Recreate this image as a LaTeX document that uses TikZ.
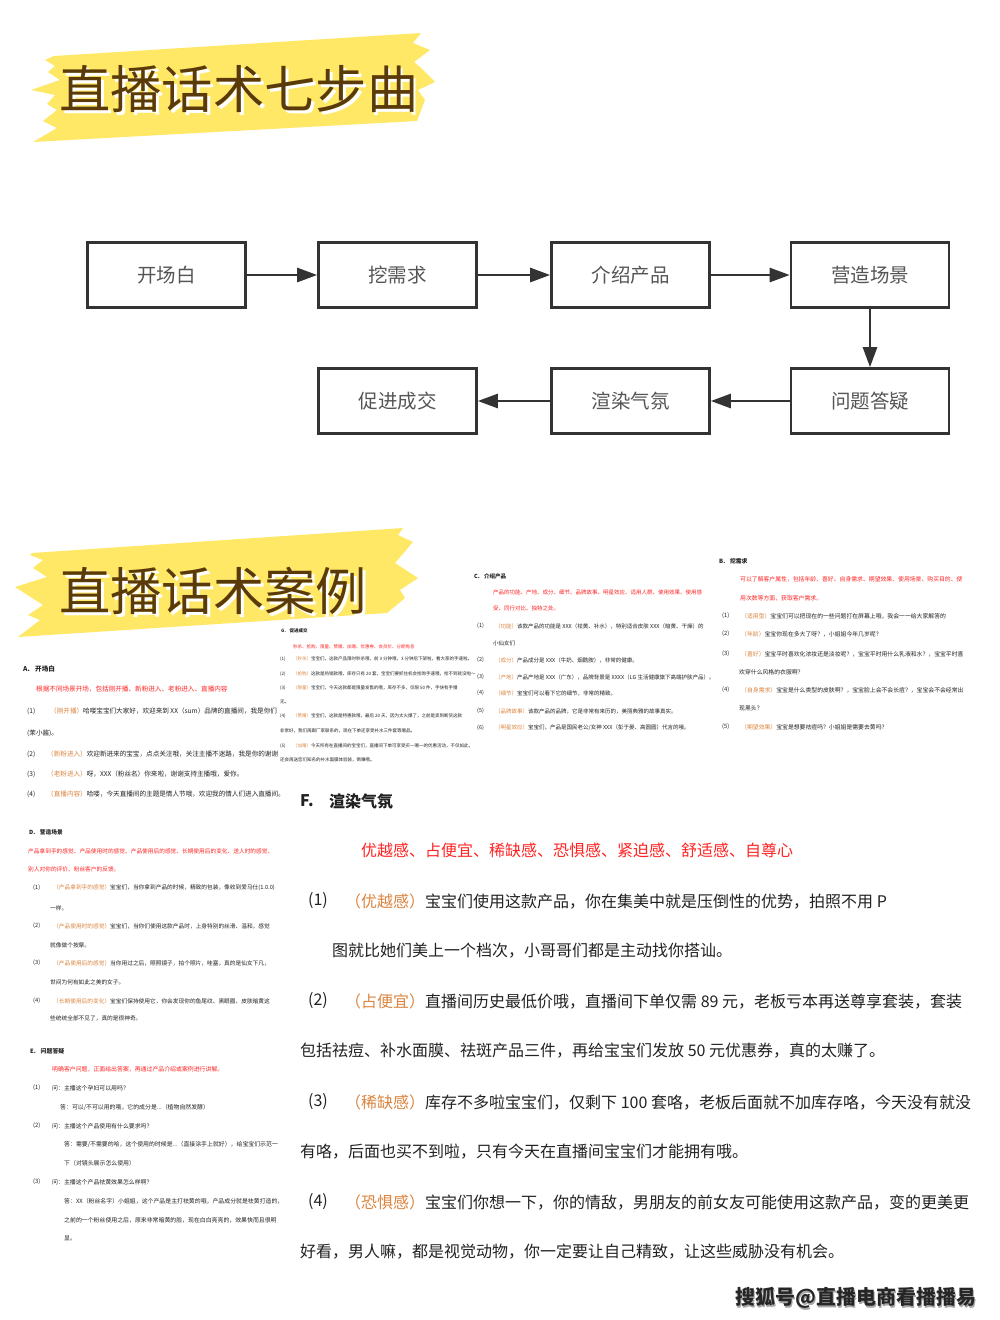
\documentclass[tikz,border=0pt]{standalone}
\usepackage{fontspec}
\setmainfont{Noto Sans CJK SC}
\usetikzlibrary{arrows.meta}
\definecolor{yel}{HTML}{FFE866}
\definecolor{titlec}{HTML}{5A3A08}
\definecolor{boxc}{HTML}{333333}
\definecolor{boxtxt}{HTML}{555555}
\definecolor{redc}{HTML}{FF2424}
\definecolor{labc}{HTML}{DB8540}
\definecolor{txt}{HTML}{222222}
\newcommand\lb[1]{\textcolor{labc}{#1}}
\begin{document}
\begin{tikzpicture}[x=1pt,y=-1pt,
  box/.style={draw=boxc, line width=2.6pt, minimum width=158pt, minimum height=65pt, inner sep=0pt, text=boxtxt, font=\fontsize{19.5}{20}\selectfont},
  arr/.style={draw=boxc, line width=2.6pt, -{Triangle[length=20pt,width=14pt]}},
  ttl/.style={anchor=west, inner sep=0pt, text=titlec, font=\fontsize{51.3}{52}\selectfont},
  tl/.style={anchor=west, inner sep=0pt, text=txt},
  sa/.style={tl, font=\fontsize{6.6}{7}\selectfont},
  sb/.style={tl, font=\fontsize{5.85}{6}\selectfont},
  sc/.style={tl, font=\fontsize{5.5}{6}\selectfont},
  sg/.style={tl, font=\fontsize{4.5}{5}\selectfont},
  sd/.style={tl, font=\fontsize{5.7}{6}\selectfont},
  se/.style={tl, font=\fontsize{5.9}{6}\selectfont},
  sf/.style={tl, font=\fontsize{16}{17}\selectfont},
  rd/.style={text=redc},
  hd/.style={font=\bfseries\fontsize{#1}{#1}\selectfont},
]
\useasboundingbox (0,0) rectangle (1000,1320);
\fill[white] (0,0) rectangle (1000,1320);

% ---------- banner 1 ----------
\fill[yel] (54,56) -- (421,33) -- (413,43) -- (430,50) -- (414,62) -- (420,67) -- (435,82) -- (418,90) -- (425,100) -- (417,121)
  -- (33,142) -- (57,128) -- (43,121) -- (57,110) -- (47,104) -- (55,95) -- (31,90) -- (60,80) -- (48,72) -- (55,66) -- (45,60) -- cycle;
\node[ttl, text=white] (t1s) at (62,92) {直播话术七步曲};
\node[ttl] (t1) at (59,89) {直播话术七步曲};

% ---------- flowchart ----------
\node[box] (b1) at (166.5,275) {开场白};
\node[box] (b2) at (397.5,275) {挖需求};
\node[box] (b3) at (630.5,275) {介绍产品};
\node[box] (b4) at (870,275) {营造场景};
\node[box] (b5) at (870,401) {问题答疑};
\node[box] (b6) at (630.5,401) {渲染气氛};
\node[box] (b7) at (397.5,401) {促进成交};
\draw[arr] (b1) -- (b2);
\draw[arr] (b2) -- (b3);
\draw[arr] (b3) -- (b4);
\draw[arr] (b4) -- (b5);
\draw[arr] (b5) -- (b6);
\draw[arr] (b6) -- (b7);

% ---------- banner 2 ----------
\fill[yel] (32,553) -- (403,528) -- (398,535) -- (413,542) -- (395,563) -- (418,578) -- (400,590) -- (405,598) -- (387,613)
  -- (18,637) -- (40,620) -- (28,615) -- (43,605) -- (15,587) -- (47,577) -- (33,568) -- (43,560) -- (30,555) -- cycle;
\node[ttl, text=white] (t2s) at (62,594) {直播话术案例};
\node[ttl] (t2) at (59,591) {直播话术案例};

% ---------- A ----------
\node[sa, hd=6.6] (a0) at (23,669) {A.\hspace{0.8em}开场白};
\node[sa, rd] (a1) at (36,689) {根据不同场景开场，包括刚开播、新粉进入、老粉进入、直播内容};
\node[sa] (a2n) at (27,711) {(1)};
\node[sa] (a2) at (50,711) {\lb{（刚开播）}哈喽宝宝们大家好，欢迎来到 XX（sum）品牌的直播间，我是你们};
\node[sa] (a3) at (27,733) {(茉小酱)。};
\node[sa] (a4n) at (27,754) {(2)};
\node[sa] (a4) at (47,754) {\lb{（新粉进入）}欢迎新进来的宝宝，点点关注哦，关注主播不迷路，我是你的谢谢};
\node[sa] (a5n) at (27,774) {(3)};
\node[sa] (a5) at (47,774) {\lb{（老粉进入）}呀，XXX（粉丝名）你来啦，谢谢支持主播哦，爱你。};
\node[sa] (a6n) at (27,794) {(4)};
\node[sa] (a6) at (47,794) {\lb{（直播内容）}哈喽，今天直播间的主题是情人节哦，欢迎我的情人们进入直播间。};

% ---------- G (covers A) ----------
\fill[white] (278,622) rectangle (470,770);
\node[sg, hd=4.5] (g0) at (281,631) {G.\hspace{0.8em}促进成交};
\node[sg, rd] (g1) at (293,647) {秒杀、抢购、限量、赞赠、加赠、优惠券、会员价、分期免息};
\node[sg] (g2n) at (280,659) {(1)};
\node[sg] (g2) at (293,659) {\lb{（秒杀）}宝宝们，这款产品限时秒杀哦，前 3 分钟哦，3 分钟后下架啦，看大家的手速啦。};
\node[sg] (g3n) at (280,674) {(2)};
\node[sg] (g3) at (293,674) {\lb{（抢购）}这款是热销款哦，库存只有 20 套，宝宝们要抓住机会抢购手速哦，抢不到就没啦～};
\node[sg] (g4n) at (280,688) {(3)};
\node[sg] (g4) at (293,688) {\lb{（限量）}宝宝们，今天这款都是限量发售的哦，库存不多，仅限 50 件，手快有手慢};
\node[sg] (g5) at (280,702) {无。};
\node[sg] (g6n) at (280,716) {(4)};
\node[sg] (g6) at (293,716) {\lb{（赞赠）}宝宝们，这款是特惠款哦，最后 20 天，因为太火爆了，之前是卖到断货这款};
\node[sg] (g7) at (280,731) {非常好，我们再跟厂家联系的，现在下单还享受补水三件套等赠品。};
\node[sg] (g8n) at (280,746) {(5)};
\node[sg] (g8) at (293,746) {\lb{（加赠）}今天所有在直播间的宝宝们，直播间下单可享受买一赠一的优惠活动，不仅如此，};
\node[sg] (g9) at (280,760) {还会再送您们知名的补水面膜体验装，倒赚哦。};

% ---------- C ----------
\node[sc, hd=5.5] (c0) at (474,576) {C.\hspace{0.8em}介绍产品};
\node[sc, rd] (c1) at (493,592) {产品的功能、产地、成分、细节、品牌故事、明星效应、适用人群、使用效果、使用感};
\node[sc, rd] (c2) at (493,608) {受、同行对比、独特之处。};
\node[sc] (c3n) at (477,626) {(1)};
\node[sc] (c3) at (495,626) {\lb{（功能）}该款产品的功能是 XXX（祛黄、补水），特别适合皮肤 XXX（暗黄、干燥）的};
\node[sc] (c4) at (493,643) {小仙女们};
\node[sc] (c5n) at (477,660) {(2)};
\node[sc] (c5) at (495,660) {\lb{（成分）}产品成分是 XXX（牛奶、烟酰胺），非常的健康。};
\node[sc] (c6n) at (477,677) {(3)};
\node[sc] (c6) at (495,677) {\lb{（产地）}产品产地是 XXX（广东），品牌背景是 XXXX（LG 生活健康旗下高端护肤产品）。};
\node[sc] (c7n) at (477,693) {(4)};
\node[sc] (c7) at (495,693) {\lb{（细节）}宝宝们可以看下它的细节，非常的精致。};
\node[sc] (c8n) at (477,711) {(5)};
\node[sc] (c8) at (495,711) {\lb{（品牌故事）}该款产品的品牌，它是非常有来历的，美丽典雅的故事真实。};
\node[sc] (c9n) at (477,728) {(6)};
\node[sc] (c9) at (495,728) {\lb{（明星效应）}宝宝们，产品是国民老公/女神 XXX（彭于晏、高圆圆）代言的哦。};

% ---------- B ----------
\node[sb, hd=5.85] (d0) at (719,561) {B.\hspace{0.8em}挖需求};
\node[sb, rd] (d1) at (740,579) {可以了解客户属性，包括年龄、喜好、自身需求、期望效果、使用场景、购买目的、使};
\node[sb, rd] (d2) at (740,598) {用次数等方面，获取客户需求。};
\node[sb] (d3n) at (722,616) {(1)};
\node[sb] (d3) at (741,616) {\lb{（适用型）}宝宝们可以把现在的一些问题打在屏幕上哦，我会一一给大家解答的};
\node[sb] (d4n) at (722,634) {(2)};
\node[sb] (d4) at (741,634) {\lb{（年龄）}宝宝你现在多大了呀？，小姐姐今年几岁呢？};
\node[sb] (d5n) at (722,654) {(3)};
\node[sb] (d5) at (741,654) {\lb{（喜好）}宝宝平时喜欢化浓妆还是淡妆呢？，宝宝平时用什么乳液和水？，宝宝平时喜};
\node[sb] (d6) at (739,672) {欢穿什么风格的衣服啊？};
\node[sb] (d7n) at (722,690) {(4)};
\node[sb] (d7) at (741,690) {\lb{（自身需求）}宝宝是什么类型的皮肤啊？，宝宝脸上会不会长痘？，宝宝会不会经常出};
\node[sb] (d8) at (739,708) {现黑头？};
\node[sb] (d9n) at (722,727) {(5)};
\node[sb] (d9) at (741,727) {\lb{（期望效果）}宝宝是想要祛痘吗？小姐姐是需要去黄吗？};

% ---------- D ----------
\node[sd, hd=5.7] (e0) at (29,832) {D.\hspace{0.8em}营造场景};
\node[sd, rd] (e1) at (28,851) {产品拿到手的感觉、产品使用时的感觉、产品使用后的感觉、长期使用后的变化、送人时的感觉、};
\node[sd, rd] (e2) at (28,869) {别人对你的评价、粉丝客户的反馈。};
\node[sd] (e3n) at (33,888) {(1)};
\node[sd] (e3) at (53,888) {\lb{（产品拿到手的感觉）}宝宝们，当你拿到产品的时候，精致的包装，像收到爱马仕(1.0.0)};
\node[sd] (e4) at (50,908) {一样。};
\node[sd] (e5n) at (33,926) {(2)};
\node[sd] (e5) at (53,926) {\lb{（产品使用时的感觉）}宝宝们，当你们使用这款产品时，上身特别的丝滑、温和，感觉};
\node[sd] (e6) at (50,945) {就像做个按摩。};
\node[sd] (e7n) at (33,963) {(3)};
\node[sd] (e7) at (53,963) {\lb{（产品使用后的感觉）}当你用过之后，照照镜子，拍个照片，哇塞，真的是仙女下凡，};
\node[sd] (e8) at (50,982) {世间为何有如此之美的女子。};
\node[sd] (e9n) at (33,1001) {(4)};
\node[sd] (e9) at (53,1001) {\lb{（长期使用后的变化）}宝宝们保持使用它，你会发现你的鱼尾纹、黑眼圈、皮肤暗黄这};
\node[sd] (e10) at (50,1018) {些统统全部不见了，真的是很神奇。};

% ---------- E ----------
\node[se, hd=5.9] (f0) at (30,1051) {E.\hspace{0.8em}问题答疑};
\node[se, rd] (f1) at (52,1069) {明确客户问题，正面给出答案，再通过产品介绍或案例进行讲解。};
\node[se] (f2n) at (33,1088) {(1)};
\node[se] (f2) at (52,1088) {问：主播这个孕妇可以用吗？};
\node[se] (f3) at (60,1107) {答：可以/不可以用的哦，它的成分是...（植物自然发酵）};
\node[se] (f4n) at (33,1126) {(2)};
\node[se] (f4) at (52,1126) {问：主播这个产品使用有什么要求吗？};
\node[se] (f5) at (64,1144) {答：需要/不需要的哈，这个使用的时候是...（直接涂手上就好），给宝宝们示范一};
\node[se] (f6) at (64,1163) {下（对镜头展示怎么使用）};
\node[se] (f7n) at (33,1182) {(3)};
\node[se] (f7) at (52,1182) {问：主播这个产品祛黄效果怎么样啊？};
\node[se] (f8) at (64,1201) {答：XX（粉丝名字）小姐姐，这个产品是主打祛黄的哦，产品成分就是祛黄打造的，};
\node[se] (f9) at (64,1220) {之前的一个粉丝使用之后，原来非常暗黄的脸，现在白白亮亮的，效果快而且很明};
\node[se] (f10) at (64,1238) {显。};

% ---------- F ----------
\node[sf, hd=16] (h0) at (300,801) {F.};
\node[sf, hd=16] (h0b) at (329,801) {渲染气氛};
\node[sf, rd] (h1) at (361,850) {优越感、占便宜、稀缺感、恐惧感、紧迫感、舒适感、自尊心};
\node[sf] (h2n) at (308,901) {(1)};
\node[sf] (h2) at (345,901) {\lb{（优越感）}宝宝们使用这款产品，你在集美中就是压倒性的优势，拍照不用 P};
\node[sf] (h3) at (332,951) {图就比她们美上一个档次，小哥哥们都是主动找你搭讪。};
\node[sf] (h4n) at (308,1001) {(2)};
\node[sf] (h4) at (345,1001) {\lb{（占便宜）}直播间历史最低价哦，直播间下单仅需 89 元，老板亏本再送尊享套装，套装};
\node[sf] (h5) at (300,1051) {包括祛痘、补水面膜、祛斑产品三件，再给宝宝们发放 50 元优惠券，真的太赚了。};
\node[sf] (h6n) at (308,1102) {(3)};
\node[sf] (h6) at (345,1102) {\lb{（稀缺感）}库存不多啦宝宝们，仅剩下 100 套咯，老板后面就不加库存咯，今天没有就没};
\node[sf] (h7) at (300,1152) {有咯，后面也买不到啦，只有今天在直播间宝宝们才能拥有哦。};
\node[sf] (h8n) at (308,1202) {(4)};
\node[sf] (h8) at (345,1202) {\lb{（恐惧感）}宝宝们你想一下，你的情敌，男朋友的前女友可能使用这款产品，变的更美更};
\node[sf] (h9) at (300,1252) {好看，男人嘛，都是视觉动物，你一定要让自己精致，让这些威胁没有机会。};

% ---------- watermark ----------
\node[tl, hd=20, text=black!35] (wms) at (736.5,1299.5) {搜狐号@直播电商看播播易};
\node[tl, hd=20, text=black!85] (wm) at (735,1298) {搜狐号@直播电商看播播易};
\end{tikzpicture}
\end{document}
